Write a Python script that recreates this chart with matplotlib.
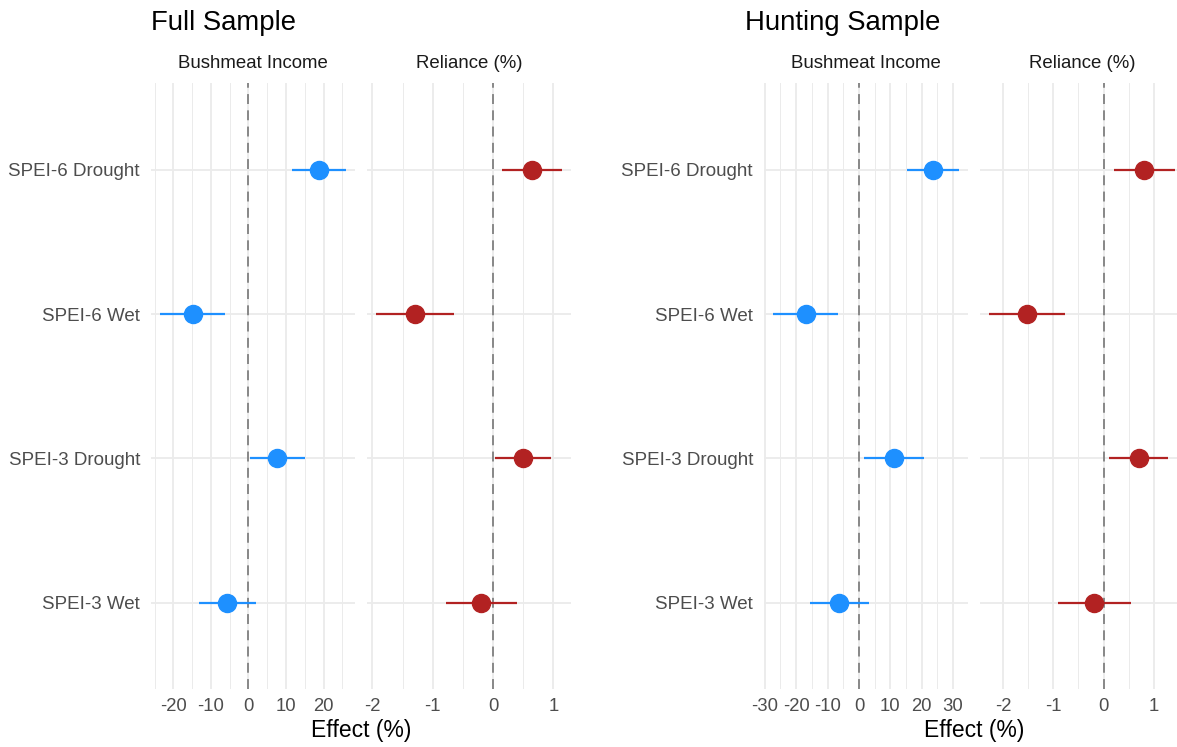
#!/usr/bin/env python3

import numpy as np
import matplotlib
matplotlib.use("Agg")
import matplotlib.pyplot as plt

plt.rcParams['font.family'] = ['Liberation Sans', 'DejaVu Sans']

# categories, top to bottom
categories = ["SPEI-6 Drought", "SPEI-6 Wet", "SPEI-3 Drought", "SPEI-3 Wet"]

# Full sample
full_income_est = [18.8, -14.9, 7.6, -5.7]
full_income_lo = [11.6, -23.5, 0.4, -13.3]
full_income_hi = [25.9, -6.2, 15.1, 1.9]
full_rel_est = [0.65, -1.30, 0.50, -0.20]
full_rel_lo = [0.15, -1.94, 0.04, -0.78]
full_rel_hi = [1.14, -0.65, 0.96, 0.40]

# Hunting sample
hunt_income_est = [23.5, -17.0, 11.1, -6.4]
hunt_income_lo = [15.4, -27.3, 1.7, -15.6]
hunt_income_hi = [31.8, -6.6, 20.6, 3.1]
hunt_rel_est = [0.80, -1.52, 0.70, -0.19]
hunt_rel_lo = [0.20, -2.28, 0.11, -0.91]
hunt_rel_hi = [1.42, -0.76, 1.28, 0.54]

full_income_ticks = [-20, -10, 0, 10, 20]
hunt_income_ticks = [-30, -20, -10, 0, 10, 20, 30]
rel_ticks = [-2, -1, 0, 1]

BLUE = "#1E90FF"
RED = "#B22222"
GRID = "#EBEBEB"
TXT = "#4D4D4D"

W, H = 1177, 747
fig = plt.figure(figsize=(W / 100, H / 100), dpi=100)


def px_axes(x0, x1, y0=83.3, y1=689.3):
    return fig.add_axes([x0 / W, 1 - y1 / H, (x1 - x0) / W, (y1 - y0) / H])


def panel(ax, est, lo, hi, ticks, color, strip, show_y):
    y = np.arange(len(categories))[::-1] + 1

    ax.set_xticks(ticks)
    minor = [(a + b) / 2 for a, b in zip(ticks[:-1], ticks[1:])]
    step = ticks[1] - ticks[0]
    minor = [ticks[0] - step / 2] + minor + [ticks[-1] + step / 2]
    ax.set_xticks(minor, minor=True)
    ax.set_xticklabels([str(t) for t in ticks])
    ax.set_yticks(y)
    ax.set_yticklabels(categories if show_y else [])

    # limits after ticks, ggplot style 5% padding
    lo_all, hi_all = min(lo), max(hi)
    span = hi_all - lo_all
    ax.set_xlim(lo_all - 0.05 * span, hi_all + 0.05 * span)
    ax.set_ylim(0.4, len(categories) + 0.6)

    ax.grid(True, which='major', color=GRID, linewidth=1.3)
    ax.grid(True, which='minor', axis='x', color=GRID, linewidth=0.7)
    ax.set_axisbelow(True)
    for s in ax.spines.values():
        s.set_visible(False)
    ax.tick_params(which='both', length=0)
    ax.tick_params(axis='x', labelsize=13.3, labelcolor=TXT, pad=6)
    ax.tick_params(axis='y', labelsize=13.5, labelcolor=TXT, pad=8)

    ax.axvline(0, color="#808080", linewidth=1.3, linestyle=(0, (5.5, 3.5)), zorder=2)
    ax.hlines(y, lo, hi, color=color, linewidth=1.6, zorder=3)
    ax.plot(est, y, 'o', color=color, markersize=13, zorder=4)

    ax.set_title(strip, fontsize=13.4, color="#1A1A1A", pad=11)


# Full sample
a1 = px_axes(151, 355)
panel(a1, full_income_est, full_income_lo, full_income_hi, full_income_ticks, BLUE, "Bushmeat Income", True)
a2 = px_axes(366.7, 571)
panel(a2, full_rel_est, full_rel_lo, full_rel_hi, rel_ticks, RED, "Reliance (%)", False)

# Hunting sample
a3 = px_axes(764, 968)
panel(a3, hunt_income_est, hunt_income_lo, hunt_income_hi, hunt_income_ticks, BLUE, "Bushmeat Income", True)
a4 = px_axes(980, 1184)
panel(a4, hunt_rel_est, hunt_rel_lo, hunt_rel_hi, rel_ticks, RED, "Reliance (%)", False)

fig.text(151 / W, 1 - 29.5 / H, "Full Sample", fontsize=19.8, va='baseline', ha='left')
fig.text(745 / W, 1 - 29.5 / H, "Hunting Sample", fontsize=19.8, va='baseline', ha='left')
fig.text(361 / W, 1 - 737 / H, "Effect (%)", fontsize=16.5, va='baseline', ha='center')
fig.text(974 / W, 1 - 737 / H, "Effect (%)", fontsize=16.5, va='baseline', ha='center')

fig.savefig("out.png", dpi=100)
